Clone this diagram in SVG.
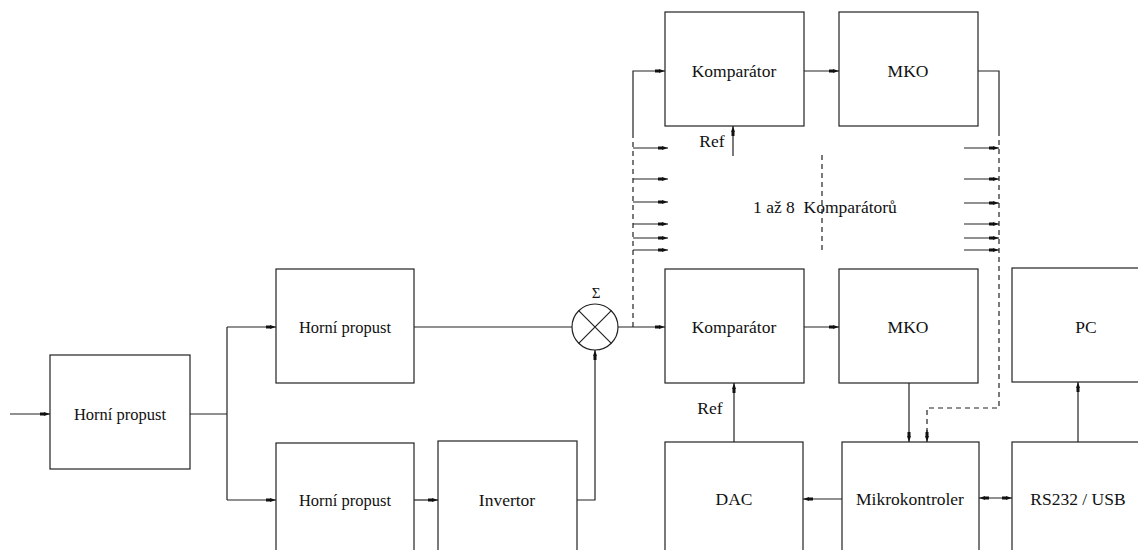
<svg xmlns="http://www.w3.org/2000/svg" width="1138" height="550" viewBox="0 0 1138 550">
<style>
.box{fill:#fff;stroke:#222;stroke-width:1.2}
.ln{fill:none;stroke:#222;stroke-width:1.2}
.dash{fill:none;stroke:#222;stroke-width:1.2;stroke-dasharray:5,4}
text{font-family:'Liberation Serif',serif;fill:#111;text-anchor:middle}
.t{font-size:17.5px}
.ts{font-size:16.5px}
.a{marker-end:url(#ah)}
</style>
<defs>
<marker id="ah" viewBox="0 -3 10 6" refX="10" refY="0" markerWidth="10" markerHeight="6" markerUnits="userSpaceOnUse" orient="auto-start-reverse">
<path d="M0,-1.5 L4,-1.5 L4,-2 L10,0 L4,2 L4,1.5 L0,1.5 z" fill="#111"/>
</marker>
</defs>
<g id="hp1"><rect class="box" x="50" y="355" width="140" height="114"/><text class="ts" font-family="Liberation Serif" x="120" y="420">Horní propust</text></g>
<g id="hp2"><rect class="box" x="276" y="269" width="138" height="114"/><text class="ts" font-family="Liberation Serif" x="345" y="333">Horní propust</text></g>
<g id="hp3"><rect class="box" x="276" y="443" width="138" height="120"/><text class="ts" font-family="Liberation Serif" x="345" y="506">Horní propust</text></g>
<g id="inv"><rect class="box" x="438" y="441" width="139" height="122"/><text class="t" font-family="Liberation Serif" x="507" y="506">Invertor</text></g>
<g id="sum"><circle class="ln" cx="595" cy="327" r="23"/><path class="ln" d="M578.7,310.7 L611.3,343.3 M611.3,310.7 L578.7,343.3"/><text class="ts" font-family="Liberation Serif" x="596" y="298" style="font-size:15px">Σ</text></g>
<g id="komp1"><rect class="box" x="665" y="12" width="139" height="114"/><text class="t" font-family="Liberation Serif" x="734" y="77">Komparátor</text></g>
<g id="mko1"><rect class="box" x="839" y="12" width="139" height="114"/><text class="t" font-family="Liberation Serif" x="908" y="77">MKO</text></g>
<g id="komp2"><rect class="box" x="665" y="269" width="139" height="114"/><text class="t" font-family="Liberation Serif" x="734" y="333">Komparátor</text></g>
<g id="mko2"><rect class="box" x="839" y="269" width="139" height="114"/><text class="t" font-family="Liberation Serif" x="908" y="333">MKO</text></g>
<g id="pc"><rect class="box" x="1012" y="268" width="140" height="114"/><text class="t" font-family="Liberation Serif" x="1086" y="333">PC</text></g>
<g id="dac"><rect class="box" x="665" y="442" width="138" height="121"/><text class="t" font-family="Liberation Serif" x="734" y="505">DAC</text></g>
<g id="mcu"><rect class="box" x="842" y="442" width="137" height="121"/><text class="t" font-family="Liberation Serif" x="910" y="505">Mikrokontroler</text></g>
<g id="rs"><rect class="box" x="1012" y="442" width="140" height="121"/><text class="t" font-family="Liberation Serif" x="1078" y="505">RS232 / USB</text></g>
<g id="labels">
<text class="t" font-family="Liberation Serif" x="712" y="147">Ref</text>
<text class="t" font-family="Liberation Serif" x="710" y="414">Ref</text>
<text class="t" font-family="Liberation Serif" x="753" y="213" style="text-anchor:start" xml:space="preserve">1 až 8  Komparátorů</text>
</g>
<g id="connectors">
<path class="ln a" d="M10,414 H50"/>
<path class="ln" d="M190,414 H227 M227,327 V500"/>
<path class="ln a" d="M227,327 H276"/>
<path class="ln a" d="M227,500 H276"/>
<path class="ln a" d="M414,500 H438"/>
<path class="ln" d="M414,327 H572"/>
<path class="ln a" d="M577,500 H595 V350"/>
<path class="ln a" d="M618,327 H665"/>
<path class="dash" d="M633,327 V133"/>
<path class="ln a" d="M633,133 V71 H665"/>
<path class="ln a" d="M633,148 H668"/>
<path class="ln a" d="M633,179 H668"/>
<path class="ln a" d="M633,202 H668"/>
<path class="ln a" d="M633,224 H668"/>
<path class="ln a" d="M633,238 H668"/>
<path class="ln a" d="M633,250 H668"/>
<path class="ln a" d="M733,156 V126"/>
<path class="ln a" d="M804,71 H839"/>
<path class="ln" d="M978,71 H999 V131"/>
<path class="dash" d="M999,131 V408 H927 V432"/>
<path class="ln a" d="M927,430 V442"/>
<path class="ln a" d="M964,148 H999"/>
<path class="ln a" d="M964,179 H999"/>
<path class="ln a" d="M964,203 H999"/>
<path class="ln a" d="M964,224 H999"/>
<path class="ln a" d="M964,238 H999"/>
<path class="ln a" d="M964,250 H999"/>
<path class="dash" d="M822,155 V252"/>
<path class="ln a" d="M804,327 H839"/>
<path class="ln a" d="M909,383 V442"/>
<path class="ln a" d="M734,442 V383"/>
<path class="ln a" d="M842,499 H803"/>
<path class="ln a" d="M979,498 H1012" marker-start="url(#ah)"/>
<path class="ln a" d="M1078,442 V382"/>
</g>
</svg>
